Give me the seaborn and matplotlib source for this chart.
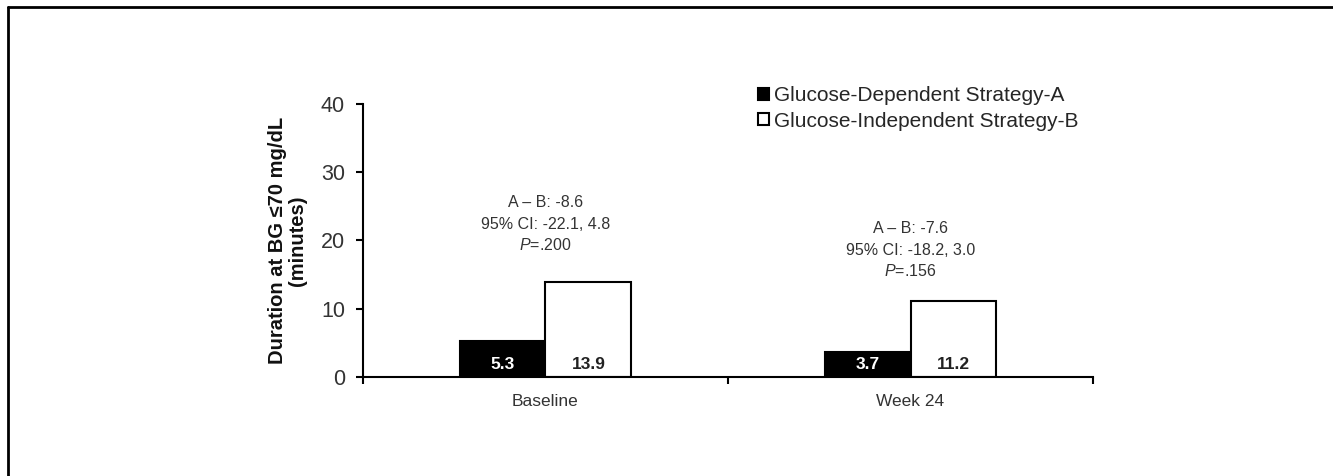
import pandas as pd
import matplotlib.pyplot as plt
import seaborn as sns
from matplotlib.lines import Line2D

# data
timepoints = ["Baseline", "Week 24"]
strategies = ["Glucose-Dependent Strategy-A", "Glucose-Independent Strategy-B"]
strategy_a = [5.3, 3.7]
strategy_b = [13.9, 11.2]
diff_text = ["A \u2013 B: -8.6", "A \u2013 B: -7.6"]
ci_text = ["95% CI: -22.1, 4.8", "95% CI: -18.2, 3.0"]
p_text = [".200", ".156"]

sns.set_theme(style="white")
plt.rcParams['font.family'] = ['Liberation Sans', 'DejaVu Sans']
plt.rcParams['mathtext.fontset'] = 'custom'
plt.rcParams['mathtext.it'] = 'Liberation Sans:italic'
plt.rcParams['mathtext.rm'] = 'Liberation Sans'

df = pd.DataFrame({
    'timepoint': timepoints * 2,
    'strategy': [strategies[0]] * 2 + [strategies[1]] * 2,
    'minutes': strategy_a + strategy_b,
})

fig = plt.figure(figsize=(13.33, 4.76), dpi=100)
ax = fig.add_axes([0.2723, 0.208, 0.5477, 0.5735])

sns.barplot(data=df, x='timepoint', y='minutes', hue='strategy',
            palette=['black', 'white'], edgecolor='black', linewidth=1.5,
            width=0.47, gap=0, errorbar=None, ax=ax)

ax.set_ylim(0, 40)
ax.set_xlim(-0.5, 1.5)
ax.set_yticks([0, 10, 20, 30, 40])
ax.tick_params(axis='y', labelsize=15.5, length=5, width=1.5, color='black',
               left=True, direction='out', pad=8, labelcolor='#333333')
ax.tick_params(axis='x', which='major', length=0, labelsize=12.5, pad=12,
               labelcolor='#333333')
ax.set_xticks([-0.5, 0.5, 1.5], minor=True)
ax.tick_params(axis='x', which='minor', length=5, width=1.5, color='black',
               bottom=True, direction='out')
ax.set_xlabel('')
ax.set_ylabel('Duration at BG \u226470 mg/dL\n(minutes)', fontsize=14.5,
              fontweight='bold', labelpad=10, linespacing=1.05, color='#111111')
for side in ['top', 'right']:
    ax.spines[side].set_visible(False)
for side in ['left', 'bottom']:
    ax.spines[side].set_color('black')
    ax.spines[side].set_linewidth(1.5)

# values written near the bottom of each bar
bars = [p for p in ax.patches if p.get_height() > 0]
for bar in bars:
    h = bar.get_height()
    light = bar.get_facecolor()[0] < 0.5
    ax.text(bar.get_x() + bar.get_width() / 2, 0.7, f"{h:.1f}",
            ha='center', va='bottom', fontsize=12.5, fontweight='bold',
            color='white' if light else '#222222')

# difference annotations above each pair
for i in range(len(timepoints)):
    top = max(strategy_a[i], strategy_b[i])
    y0 = top + 5.4 if i == 0 else top + 4.3
    ax.text(i, y0 + 6.2, diff_text[i], ha='center', va='center', fontsize=11.5, color='#333333')
    ax.text(i, y0 + 3.1, ci_text[i], ha='center', va='center', fontsize=11.5, color='#333333')
    ax.text(i, y0, f"$\\mathit{{P}}$={p_text[i]}", ha='center', va='center', fontsize=11.5, color='#333333')

handles, labels = ax.get_legend_handles_labels()
ax.legend(handles, labels, loc='upper left', bbox_to_anchor=(0.53, 1.095),
          frameon=False, fontsize=15, handlelength=0.5, handleheight=0.5,
          handletextpad=0.25, labelspacing=0.3, borderaxespad=0)

# partial frame around the figure (top and left edges)
fig.add_artist(Line2D([0.006, 1.0], [0.985, 0.985], color='black', lw=2, transform=fig.transFigure))
fig.add_artist(Line2D([0.006, 0.006], [0.0, 0.985], color='black', lw=2, transform=fig.transFigure))

fig.savefig('out.png', dpi=100)
